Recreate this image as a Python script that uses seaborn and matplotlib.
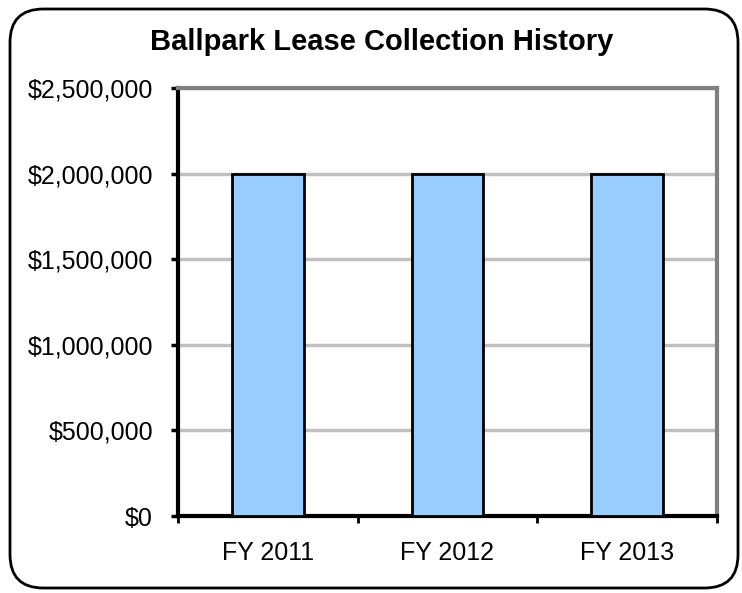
import matplotlib
matplotlib.use("Agg")
import matplotlib.pyplot as plt
import seaborn as sns
import pandas as pd
from matplotlib.patches import FancyBboxPatch
from matplotlib.ticker import FuncFormatter, FixedLocator

categories = ["FY 2011", "FY 2012", "FY 2013"]
values = [2000000, 2000000, 2000000]
title = "Ballpark Lease Collection History"

sns.set_theme(style="white")
plt.rcParams['font.family'] = ['Liberation Sans', 'DejaVu Sans']

df = pd.DataFrame({"year": categories, "amount": values})

fig = plt.figure(figsize=(7.42, 5.93), dpi=100)
ax = fig.add_axes([178/742, 1-516/593, (717-178)/742, (516-88)/593])

sns.barplot(data=df, x="year", y="amount", ax=ax, color="#99CCFF",
            saturation=1, width=0.4, edgecolor="black", linewidth=2, zorder=3)

ax.set_ylim(0, 2500000)
ax.set_xlim(-0.5, len(categories) - 0.5)
ax.set_yticks([0, 500000, 1000000, 1500000, 2000000, 2500000])
ax.yaxis.set_major_formatter(FuncFormatter(lambda v, p: "${:,.0f}".format(v)))
ax.yaxis.grid(True, color="#c0c0c0", linewidth=2.5, zorder=0)
ax.set_axisbelow(True)
ax.set_xlabel("")
ax.set_ylabel("")

ax.xaxis.set_minor_locator(FixedLocator([-0.5, 0.5, 1.5, 2.5]))
ax.tick_params(axis="x", which="major", length=0, pad=18, labelsize=18, labelcolor="black")
ax.tick_params(axis="x", which="minor", bottom=True, length=5, width=2, color="black", direction="out")
ax.tick_params(axis="y", which="major", left=True, length=5, width=2.5, color="black",
               direction="out", pad=13, labelsize=18, labelcolor="black")

for s in ["left", "bottom"]:
    ax.spines[s].set_color("black")
    ax.spines[s].set_linewidth(3)
for s in ["top", "right"]:
    ax.spines[s].set_visible(True)
    ax.spines[s].set_color("#808080")
    ax.spines[s].set_linewidth(3)

fig.text(382/742, 1-42/593, title, ha="center", va="center",
         fontsize=21, fontweight="bold", color="black")

frame = FancyBboxPatch((10/742, 1-588/593), (738-10)/742, (588-9)/593,
                       boxstyle="round,pad=0,rounding_size=0.045",
                       transform=fig.transFigure, facecolor="none",
                       edgecolor="black", linewidth=2, mutation_aspect=742/593)
fig.patches.append(frame)

fig.savefig("out.png", dpi=100)
